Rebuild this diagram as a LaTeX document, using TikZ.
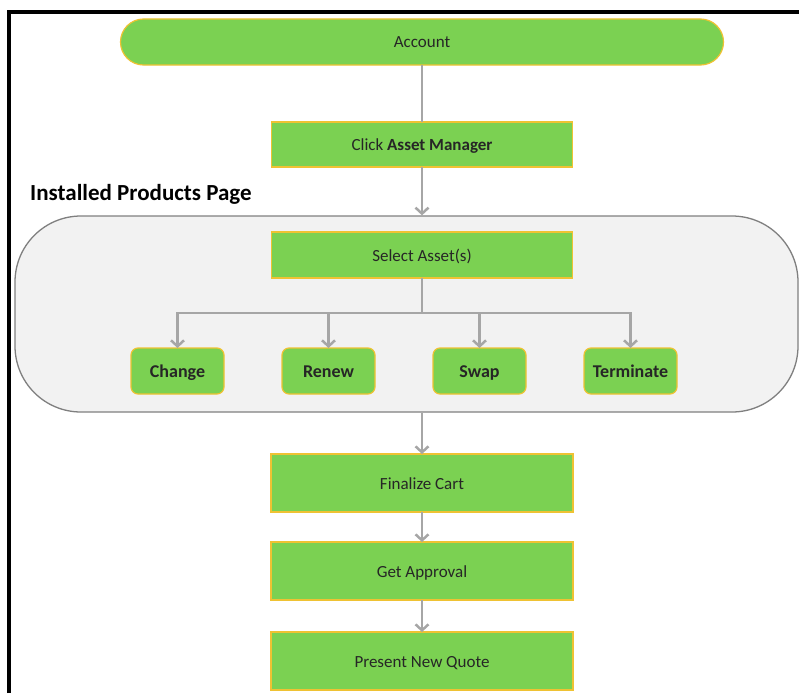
\documentclass[tikz,border=0pt]{standalone}
\usepackage{fontspec}
\setmainfont{Carlito}
\usepackage{xcolor}
\definecolor{flowGreen}{HTML}{7BD152}
\definecolor{flowGold}{HTML}{EFC233}
\definecolor{flowGray}{HTML}{A6A6A6}
\definecolor{flowInk}{HTML}{262626}
\definecolor{pageFill}{HTML}{F2F2F2}
\definecolor{pageLine}{HTML}{7F7F7F}
\usetikzlibrary{positioning, arrows.meta}

\begin{document}
\begin{tikzpicture}[
  x=1pt, y=-1pt,
  stepbox/.style = {rectangle, draw=flowGold, line width=1.2pt, fill=flowGreen,
                    minimum width=301pt, minimum height=45pt, text=flowInk,
                    font=\fontsize{17}{20}\selectfont, inner sep=0pt, outer sep=0pt,
                    text height=13pt, text depth=1pt},
  pill/.style    = {stepbox, rounded corners=23pt, minimum width=603pt,
                    minimum height=46pt},
  action/.style  = {stepbox, rounded corners=7pt, minimum width=93pt,
                    minimum height=46pt, font=\fontsize{18}{20}\selectfont\bfseries,
                    text height=13.5pt, text depth=1.5pt},
  pagebox/.style = {rectangle, draw=pageLine, line width=1.3pt, fill=pageFill,
                    rounded corners=66pt, minimum width=783pt, minimum height=196pt},
  arrow/.style   = {-{Straight Barb[length=6pt, width=13pt]}, line width=2.5pt,
                    color=flowGray},
  link/.style    = {line width=2.5pt, color=flowGray},
  pagetitle/.style = {font=\fontsize{23}{26}\selectfont\bfseries, text=black,
                      inner sep=0pt},
]
\useasboundingbox (0,0) rectangle (799,693);

% Frame
\draw[line width=4pt, black] (9,693) |- (799,12.5);

% Top of the flow
\node[pill] (account) at (422,42) {Account};
\node[stepbox, below=57pt of account] (click) {Click \textbf{Asset Manager}};

% Installed products page
\node[pagebox] (page) at (406.5,314) {};
\node[pagetitle, anchor=west] (title) at (30,194) {Installed Products Page};
\node[stepbox, minimum height=46pt, below=65pt of click] (select) {Select Asset(s)};

\node[action] (change)    at (177.5,371) {Change};
\node[action, right=58pt of change] (renew)     {Renew};
\node[action, right=58pt of renew]  (swap)      {Swap};
\node[action, right=58pt of swap]   (terminate) {Terminate};

% Closing steps
\node[stepbox, minimum width=302pt, minimum height=58pt, below=176pt of select] (cart)
      {Finalize Cart};
\node[stepbox, minimum width=302pt, minimum height=58pt, below=30pt of cart] (approval)
      {Get Approval};
\node[stepbox, minimum width=302pt, minimum height=58pt, below=32pt of approval] (quote)
      {Present New Quote};

% Connectors
\coordinate (split) at ([yshift=-35pt]select.south);
\draw[link]  (account) -- (click);
\draw[arrow] (click.south) -- (click.south |- page.north);
\draw[link]  (select.south) -- (split);
\foreach \act in {change, renew, swap, terminate}
  \draw[arrow] (split) -| (\act.north);
\draw[arrow] (cart.north |- page.south) -- (cart.north);
\draw[arrow] (cart) -- (approval);
\draw[arrow] (approval) -- (quote);

\end{tikzpicture}
\end{document}
